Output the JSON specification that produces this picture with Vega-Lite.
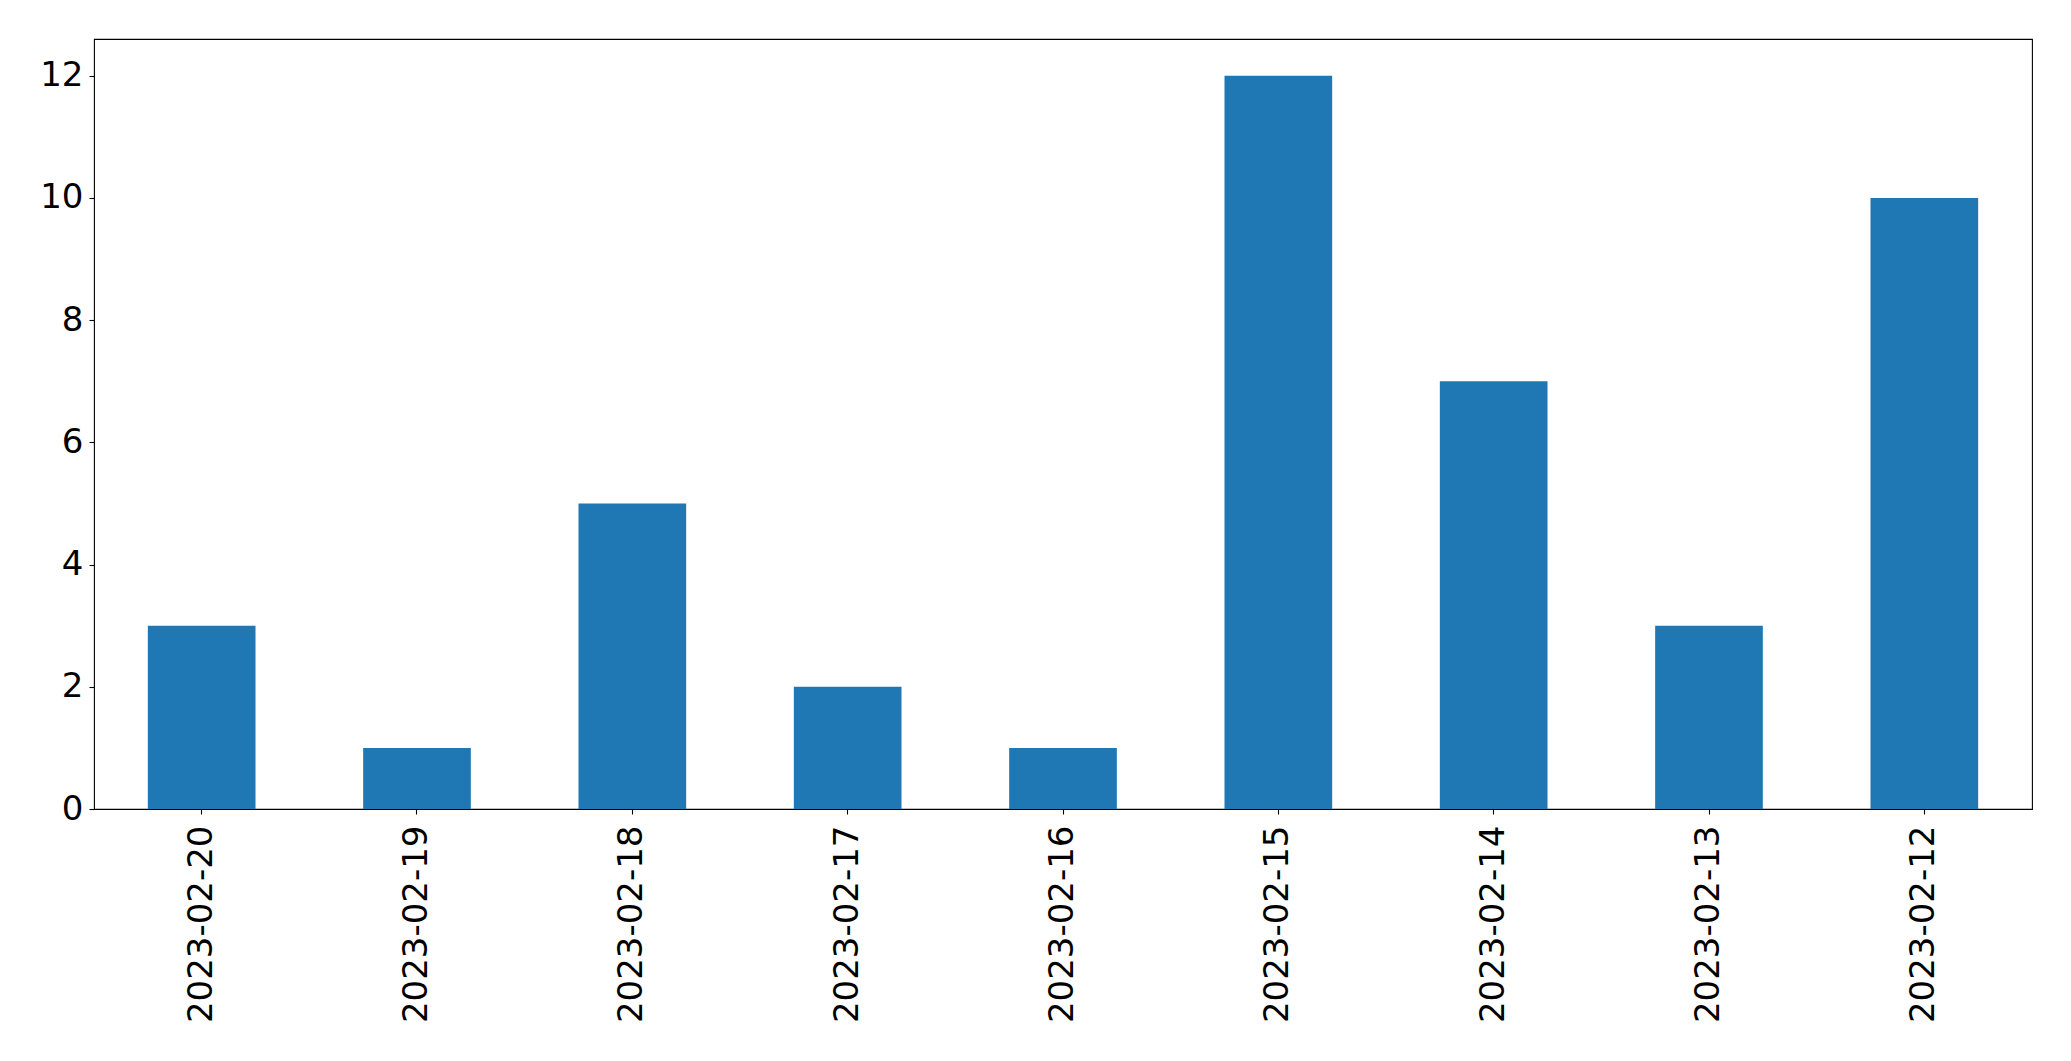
{
  "$schema": "https://vega.github.io/schema/vega-lite/v6.json",
  "autosize": "none",
  "width": 1938,
  "height": 770,
  "padding": {"left": 94, "top": 39, "right": 39, "bottom": 252},
  "background": "white",
  "config": {
    "view": {"stroke": "black", "strokeWidth": 1.1},
    "axis": {
      "grid": false,
      "domain": false,
      "tickColor": "black",
      "tickWidth": 1.1,
      "tickSize": 5,
      "labelColor": "black",
      "labelFont": "DejaVu Sans",
      "labelFontSize": 34,
      "labelLimit": 0,
      "title": null
    }
  },
  "data": {
    "values": [
      {"date": "2023-02-20", "count": 3},
      {"date": "2023-02-19", "count": 1},
      {"date": "2023-02-18", "count": 5},
      {"date": "2023-02-17", "count": 2},
      {"date": "2023-02-16", "count": 1},
      {"date": "2023-02-15", "count": 12},
      {"date": "2023-02-14", "count": 7},
      {"date": "2023-02-13", "count": 3},
      {"date": "2023-02-12", "count": 10}
    ]
  },
  "mark": {"type": "bar", "color": "#1f77b4"},
  "encoding": {
    "x": {
      "field": "date",
      "type": "nominal",
      "sort": null,
      "scale": {"paddingInner": 0.5, "paddingOuter": 0.25},
      "axis": {"labelAngle": 270, "labelPadding": 11, "labelLimit": 0}
    },
    "y": {
      "field": "count",
      "type": "quantitative",
      "scale": {"domain": [0, 12.6], "nice": false},
      "axis": {"values": [0, 2, 4, 6, 8, 10, 12], "labelPadding": 6}
    }
  }
}
